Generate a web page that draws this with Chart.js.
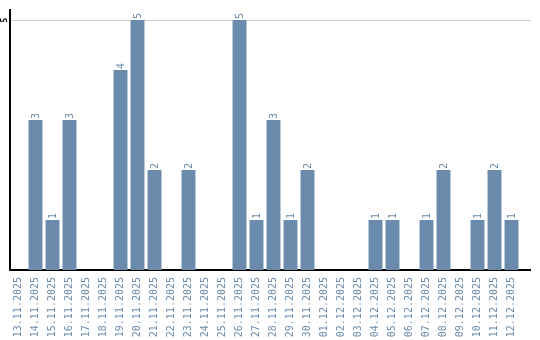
<!DOCTYPE html>
<html><head><meta charset="utf-8">
<script src="https://cdn.jsdelivr.net/npm/chart.js@4"></script>
<style>html,body{margin:0;padding:0;background:#fff}#wrap{width:540px;height:340px}</style>
</head><body><div id="wrap"><canvas id="c"></canvas></div>
<script>
const categories = ["13.11.2025","14.11.2025","15.11.2025","16.11.2025","17.11.2025","18.11.2025","19.11.2025","20.11.2025","21.11.2025","22.11.2025","23.11.2025","24.11.2025","25.11.2025","26.11.2025","27.11.2025","28.11.2025","29.11.2025","30.11.2025","01.12.2025","02.12.2025","03.12.2025","04.12.2025","05.12.2025","06.12.2025","07.12.2025","08.12.2025","09.12.2025","10.12.2025","11.12.2025","12.12.2025"];
const counts = [0,3,1,3,0,0,4,5,2,0,2,0,0,5,1,3,1,2,0,0,0,1,1,0,1,2,0,1,2,1];
const yTicks = [5];

const BAR = '#6a8bab';
const LBL = '#6a8bab';
const MONO = '"DejaVu Sans Mono", monospace';

const extras = {
  id: 'extras',
  afterDraw(chart) {
    const ctx = chart.ctx, ca = chart.chartArea, y = chart.scales.y;
    ctx.save();
    const gy = Math.round(y.getPixelForValue(5)) + 0.5;
    ctx.strokeStyle = '#cccccc'; ctx.lineWidth = 1;
    ctx.beginPath(); ctx.moveTo(ca.right, gy); ctx.lineTo(531, gy); ctx.stroke();
    ctx.strokeStyle = '#000'; ctx.lineWidth = 2;
    ctx.beginPath(); ctx.moveTo(ca.right, ca.bottom); ctx.lineTo(531, ca.bottom); ctx.stroke();
    ctx.fillStyle = '#000'; ctx.font = 'bold 8px ' + MONO;
    yTicks.forEach(v => {
      const py = y.getPixelForValue(v);
      ctx.save(); ctx.translate(4.5, py); ctx.rotate(-Math.PI/2);
      ctx.textAlign = 'center'; ctx.textBaseline = 'middle';
      ctx.fillText(String(v), 0, 0); ctx.restore();
    });
    const meta = chart.getDatasetMeta(0);
    ctx.fillStyle = LBL; ctx.font = '10px ' + MONO;
    meta.data.forEach((bar, i) => {
      const v = counts[i];
      if (!v) return;
      ctx.save(); ctx.translate(bar.x, bar.y - 1); ctx.rotate(-Math.PI/2);
      ctx.textAlign = 'left'; ctx.textBaseline = 'middle';
      ctx.fillText(String(v), 0, 0.5); ctx.restore();
    });
    ctx.restore();
  }
};

new Chart(document.getElementById('c'), {
  type: 'bar',
  data: { labels: categories, datasets: [{ data: counts, backgroundColor: BAR, borderWidth: 0, barPercentage: 0.9, categoryPercentage: 0.91 }] },
  options: {
    responsive: true, maintainAspectRatio: false, animation: false,
    layout: { padding: { left: 10, top: 10, right: 20, bottom: 0 } },
    plugins: { legend: { display: false }, tooltip: { enabled: false } },
    scales: {
      x: {
        afterFit(s) { s.height = 70; },
        grid: { display: false, drawTicks: false },
        border: { display: true, color: '#000', width: 2 },
        ticks: { color: LBL, font: { family: MONO, size: 10 }, minRotation: 90, maxRotation: 90, padding: 7, autoSkip: false }
      },
      y: {
        min: 0, max: 5.2,
        afterBuildTicks(s) { s.ticks = yTicks.map(v => ({ value: v })); },
        grid: { color: '#cccccc', drawTicks: false },
        border: { display: true, color: '#000', width: 2 },
        ticks: { display: false }
      }
    }
  },
  plugins: [extras]
});
</script></body></html>
